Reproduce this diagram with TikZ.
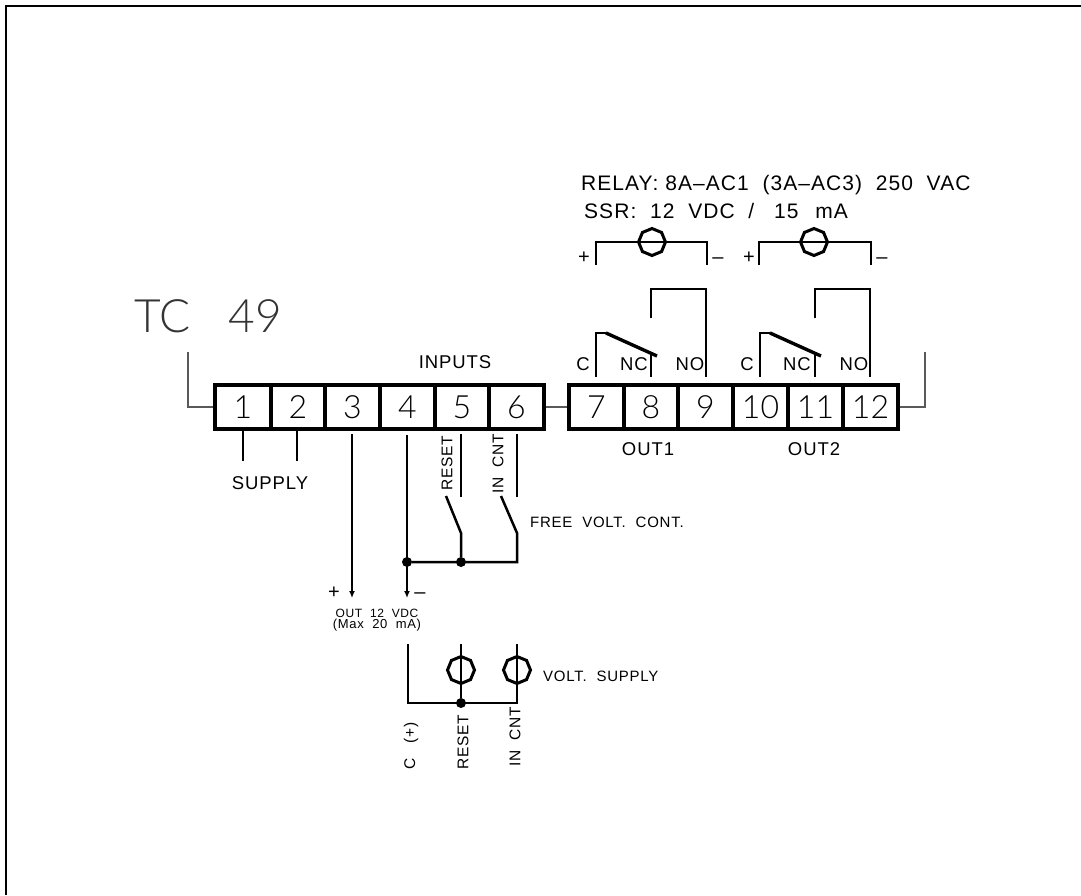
\documentclass[tikz,border=0pt]{standalone}
\usepackage{fontspec}
\setmainfont[LetterSpace=5]{Liberation Sans}
\newfontfamily\lightfont{Lato Light}
\usetikzlibrary{shapes.geometric,arrows.meta}
\tikzset{
  x=1pt,y=-1pt,
  cell/.style={draw,line width=3.2pt,minimum height=44pt,inner sep=0pt,font=\lightfont\fontsize{32}{32}\selectfont},
  wire/.style={line width=2pt},
  heavy wire/.style={line width=2.5pt},
  thin wire/.style={line width=1.2pt,black!65},
  thick blade/.style={line width=3.4pt},
  lamp/.style={draw,regular polygon,regular polygon sides=8,shape border rotate=22.5,minimum size=27pt,inner sep=0pt,line width=3pt},
  joint/.style={circle,fill,inner sep=0pt,minimum size=10pt},
  lbl/.style={inner sep=0pt,font=\fontsize{18.5}{18.5}\selectfont},
  big/.style={inner sep=0pt,font=\fontsize{21}{21}\selectfont,anchor=base west},
  mid/.style={inner sep=0pt,font=\fontsize{15}{15}\selectfont,anchor=base west},
  side/.style={inner sep=0pt,font=\fontsize{15.5}{15.5}\selectfont,rotate=90},
  tiny/.style={inner sep=0pt,font=\fontsize{13}{13}\selectfont},
  sign/.style={inner sep=0pt,font=\fontsize{20}{20}\selectfont},
  tip/.style={-{Latex[length=7pt,width=6pt]}},
}
\begin{document}
\begin{tikzpicture}
\useasboundingbox (0,0) rectangle (1081,895);
\coordinate (bl) at (6,895);
\coordinate (tl) at (6,6);
\coordinate (tr) at (1081,6);
\draw[line width=1.6pt] (bl) -- (tl) -- (tr);
\node[inner sep=0pt,font=\lightfont\fontsize{46}{46}\selectfont,black!80] (title) at (208.5,316) {TC\hspace{38pt}49};
% terminals
\foreach \n/\a/\b in {1/215/271,2/271/325,3/325/380,4/380/435,5/435/489,6/489/544,7/569/624,8/624/678,9/678/733,10/733/788,11/788/843,12/843/898}{
  \pgfmathsetmacro{\w}{\b-\a}
  \pgfmathsetmacro{\c}{(\a+\b)/2}
  \node[cell,minimum width=\w pt] (t\n) at (\c,407) {\n};
}
\coordinate (lc) at (188,407);
\coordinate (lt) at (188,352);
\coordinate (rc) at (925,407);
\coordinate (rt) at (925,352);
\draw[thin wire] (lt) -- (lc) -- (t1.west);
\draw[thin wire] (t6.east) -- (t7.west);
\draw[thin wire] (t12.east) -- (rc) -- (rt);
% labels
\node[lbl] (inputs) at (455,362) {INPUTS};
\node[lbl] (supply) at (270,483) {SUPPLY};
\node[lbl] (out1) at (648,449) {OUT1};
\node[lbl] (out2) at (814,449) {OUT2};
\node[big] (rel) at (581,190) {RELAY: 8A–AC1\ \ (3A–AC3)\ \ 250\ \ VAC};
\node[big] (ssr) at (584,218) {SSR:\ \ 12\ \ VDC\ \ /\ \ \hspace{6pt}15\ \ \hspace{3pt}mA};
% supply
\coordinate (s1) at (243,461);
\coordinate (s2) at (297,461);
\coordinate (s3) at (243,429);
\coordinate (s4) at (297,429);
\draw[heavy wire] (s3) -- (s1);
\draw[heavy wire] (s4) -- (s2);
% out 12 V
\node[joint] (j4) at (407,562) {};
\node[joint] (j5) at (461,562) {};
\coordinate (a3) at (352,434);
\coordinate (a3e) at (352,598);
\coordinate (a4) at (407,435);
\coordinate (a4e) at (407,598);
\draw[wire,tip] (a3) -- (a3e);
\draw[wire,tip] (a4) -- (a4e);
\coordinate (r1) at (461,434);
\coordinate (r2) at (461,497);
\coordinate (r3) at (446,496);
\coordinate (r4) at (461,533);
\coordinate (i1) at (517,434);
\coordinate (i2) at (517,497);
\coordinate (i3) at (501,496);
\coordinate (i4) at (517,533);
\coordinate (i5) at (517,562);
\draw[wire] (r1) -- (r2);
\draw[wire] (i1) -- (i2);
\draw[heavy wire] (r3) -- (r4) -- (j5);
\draw[heavy wire] (i3) -- (i4) -- (i5) -- (j4);
\node[side] (lr) at (447,463) {RESET};
\node[side] (li) at (498,464) {IN\ \ CNT};
\node[mid] (fv) at (530,527) {FREE\ \ VOLT.\ \ CONT.};
\node[sign] (pl) at (334,593) {+};
\node[sign] (mi) at (420,596) {–};
\node[tiny,font=\fontsize{12}{12}\selectfont] (o1) at (377,613) {OUT\ \ 12\ \ VDC};
\node[tiny] (o2) at (377,625) {(Max\ \ 20\ \ mA)};
% volt supply
\node[lamp] (l1) at (461,670) {};
\node[lamp] (l2) at (517,670) {};
\node[joint] (j6) at (461,703) {};
\coordinate (c1) at (408,644);
\coordinate (c2) at (408,703);
\coordinate (c3) at (517,703);
\coordinate (c4) at (461,644);
\coordinate (c5) at (517,644);
\draw[heavy wire] (c1) -- (c2) -- (c3) -- (c5);
\draw[heavy wire] (c4) -- (j6);
\node[mid] (vs) at (543,681) {VOLT.\ \ SUPPLY};
\node[side,anchor=west] (lc1) at (411,770) {C\ \ \ (+)};
\node[side,anchor=west] (lc2) at (463,770) {RESET};
\node[side,anchor=west] (lc3) at (515,767) {IN\ \ CNT};
% loads
\node[lamp] (ll1) at (652,242) {};
\node[lamp] (ll2) at (814,242) {};
\coordinate (b1) at (596,265);
\coordinate (b2) at (596,242);
\coordinate (b3) at (707,242);
\coordinate (b4) at (707,265);
\coordinate (d1) at (759,265);
\coordinate (d2) at (759,242);
\coordinate (d3) at (871,242);
\coordinate (d4) at (871,265);
\draw[heavy wire] (b1) -- (b2) -- (b3) -- (b4);
\draw[heavy wire] (d1) -- (d2) -- (d3) -- (d4);
\node[sign] (p1) at (584,258) {+};
\node[sign] (m1) at (718,261) {–};
\node[sign] (p2) at (749,258) {+};
\node[sign] (m2) at (882,261) {–};
% relays
\coordinate (e1) at (651,318);
\coordinate (e2) at (651,289);
\coordinate (e3) at (706,289);
\coordinate (e4) at (706,377);
\draw[wire] (e1) -- (e2) -- (e3) -- (e4);
\coordinate (f1) at (596,377);
\coordinate (f2) at (596,333);
\coordinate (f3) at (606,333);
\coordinate (f4) at (657,356);
\coordinate (f5) at (651,352);
\coordinate (f6) at (651,377);
\draw[wire] (f1) -- (f2) -- (f3);
\draw[thick blade] (f3) -- (f4);
\draw[wire] (f5) -- (f6);
\coordinate (g1) at (815,318);
\coordinate (g2) at (815,289);
\coordinate (g3) at (870,289);
\coordinate (g4) at (870,377);
\draw[wire] (g1) -- (g2) -- (g3) -- (g4);
\coordinate (h1) at (760,377);
\coordinate (h2) at (760,333);
\coordinate (h3) at (770,333);
\coordinate (h4) at (821,356);
\coordinate (h5) at (815,352);
\coordinate (h6) at (815,377);
\draw[wire] (h1) -- (h2) -- (h3);
\draw[thick blade] (h3) -- (h4);
\draw[wire] (h5) -- (h6);
\node[lbl] (nc1) at (583,364) {C};
\node[lbl] (nc2) at (634,364) {NC};
\node[lbl] (nc3) at (690,364) {NO};
\node[lbl] (nc4) at (747,364) {C};
\node[lbl] (nc5) at (797,364) {NC};
\node[lbl] (nc6) at (854,364) {NO};
\end{tikzpicture}
\end{document}
